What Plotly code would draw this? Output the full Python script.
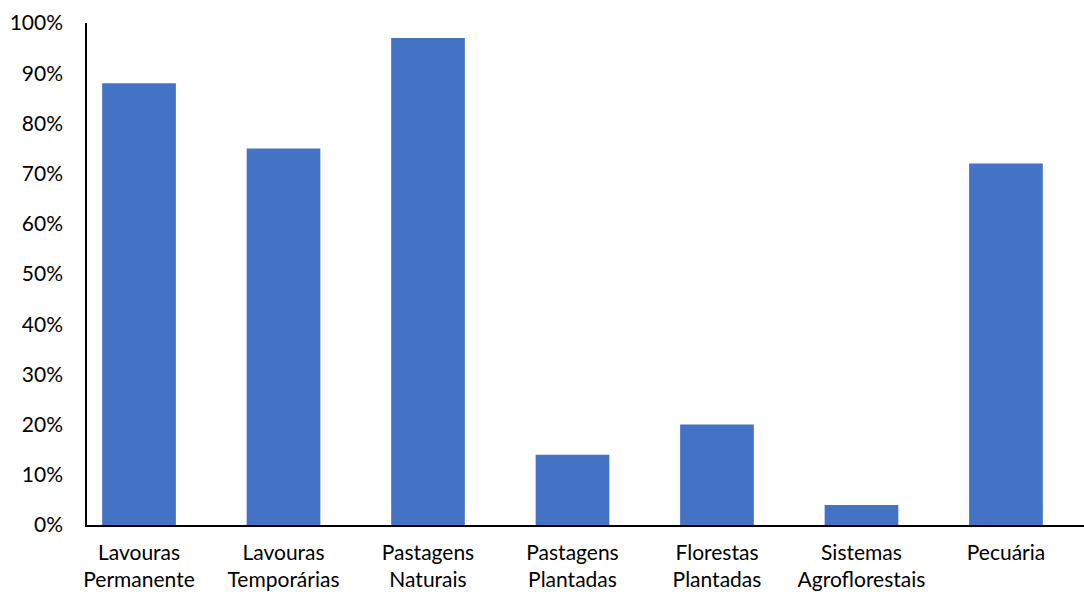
import plotly.graph_objects as go

categories = ["Lavouras<br>Permanente", "Lavouras<br>Temporárias", "Pastagens<br>Naturais",
              "Pastagens<br>Plantadas", "Florestas<br>Plantadas", "Sistemas<br>Agroflorestais", "Pecuária"]
values = [88, 75, 97, 14, 20, 4, 72]
y_ticks = [0, 10, 20, 30, 40, 50, 60, 70, 80, 90, 100]
y_tick_labels = [f"{v}%" for v in y_ticks]

fig = go.Figure(go.Bar(x=categories, y=values, marker=dict(color="#4472C4", line=dict(width=0))))

fig.update_layout(
    width=1084, height=596,
    margin=dict(l=87, r=0, t=23, b=71),
    plot_bgcolor="white", paper_bgcolor="white",
    bargap=0.49,
    showlegend=False,
    font=dict(family="Lato, Carlito, Calibri, sans-serif", size=21, color="#000000"),
)
fig.update_xaxes(
    type="category", range=[-0.36, 6.54], automargin=False,
    showline=True, linecolor="#000000", linewidth=1.5,
    ticks="", showgrid=False, ticklabelstandoff=8,
    tickfont=dict(size=21),
)
fig.update_yaxes(
    range=[0, 100], tickvals=y_ticks, ticktext=y_tick_labels, automargin=False,
    showline=True, linecolor="#000000", linewidth=1.5,
    ticks="", showgrid=False, zeroline=False, ticklabelstandoff=18,
    tickfont=dict(size=21),
)

fig.write_html("out.html")
